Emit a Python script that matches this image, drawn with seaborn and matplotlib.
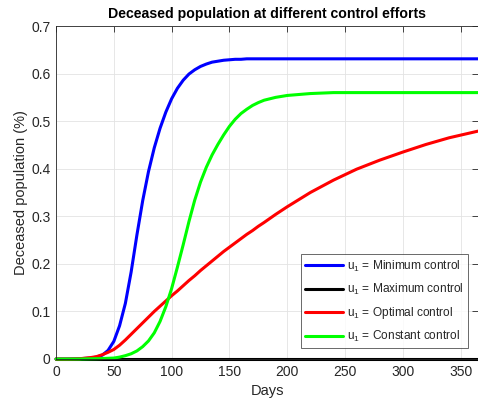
import numpy as np
import pandas as pd
import matplotlib
matplotlib.use("Agg")
import matplotlib.pyplot as plt
import seaborn as sns

# Simulation output sampled at selected days
days = [0, 10, 20, 30, 35, 40, 45, 50, 55, 60, 65, 70, 75, 80, 85, 90, 95, 100,
        105, 110, 115, 120, 125, 130, 135, 140, 145, 150, 155, 160, 165, 170,
        175, 180, 190, 200, 220, 240, 260, 280, 300, 320, 340, 365]

minimum_control = [0, 0, 0.0005, 0.002, 0.004, 0.008, 0.018, 0.037, 0.070, 0.117,
                   0.183, 0.261, 0.333, 0.394, 0.444, 0.485, 0.519, 0.547, 0.569,
                   0.586, 0.599, 0.608, 0.615, 0.620, 0.624, 0.626, 0.628, 0.629,
                   0.630, 0.630, 0.631, 0.631, 0.631, 0.631, 0.631, 0.631, 0.631,
                   0.631, 0.631, 0.631, 0.631, 0.631, 0.631, 0.631]

maximum_control = [0.0] * len(days)

optimal_control = [0, 0, 0.0005, 0.003, 0.005, 0.009, 0.014, 0.020, 0.029, 0.040,
                   0.052, 0.064, 0.076, 0.088, 0.100, 0.111, 0.122, 0.133, 0.143,
                   0.154, 0.165, 0.175, 0.186, 0.196, 0.206, 0.216, 0.226, 0.235,
                   0.244, 0.253, 0.262, 0.270, 0.279, 0.287, 0.304, 0.320, 0.350,
                   0.376, 0.399, 0.418, 0.435, 0.451, 0.465, 0.479]

constant_control = [0, 0, 0, 0.0005, 0.0007, 0.001, 0.0015, 0.002, 0.004, 0.007,
                    0.011, 0.017, 0.026, 0.038, 0.055, 0.079, 0.110, 0.148, 0.193,
                    0.240, 0.289, 0.334, 0.372, 0.403, 0.429, 0.451, 0.471, 0.489,
                    0.504, 0.516, 0.525, 0.533, 0.539, 0.544, 0.550, 0.554, 0.558,
                    0.560, 0.560, 0.560, 0.560, 0.560, 0.560, 0.560]

labels = [r"u$_1$ = Minimum control", r"u$_1$ = Maximum control",
          r"u$_1$ = Optimal control", r"u$_1$ = Constant control"]
colors = ["#0000ff", "#000000", "#ff0000", "#00ff00"]

x_ticks = [0, 50, 100, 150, 200, 250, 300, 350]
y_ticks = [0, 0.1, 0.2, 0.3, 0.4, 0.5, 0.6, 0.7]
y_tick_labels = ["0", "0.1", "0.2", "0.3", "0.4", "0.5", "0.6", "0.7"]

frames = []
for lab, vals in zip(labels, [minimum_control, maximum_control,
                              optimal_control, constant_control]):
    frames.append(pd.DataFrame({"Days": days, "Deceased": vals, "Control": lab}))
df = pd.concat(frames, ignore_index=True)

sns.set_style("white")
plt.rcParams["font.family"] = ["Liberation Sans", "DejaVu Sans"]
plt.rcParams["mathtext.fontset"] = "custom"
plt.rcParams["mathtext.rm"] = "Liberation Sans"
plt.rcParams["mathtext.it"] = "Liberation Sans"
plt.rcParams["mathtext.default"] = "regular"

fig = plt.figure(figsize=(4.78, 4.03), dpi=100)
ax = fig.add_axes([56 / 478, 1 - 359 / 403, 422 / 478, 333 / 403])

sns.lineplot(data=df, x="Days", y="Deceased", hue="Control", hue_order=labels,
             palette=colors, linewidth=2.2, ax=ax, clip_on=False, sort=False)
for line in ax.get_lines():
    line.set_solid_joinstyle("round")

ax.set_xlim(0, 365)
ax.set_ylim(0, 0.7)
ax.set_xticks(x_ticks)
ax.set_yticks(y_ticks)
ax.set_yticklabels(y_tick_labels)

dark = "#262626"
ax.grid(True, color="#e3e3e3", linewidth=0.6)
ax.set_axisbelow(True)
for s in ax.spines.values():
    s.set_color(dark)
    s.set_linewidth(0.6)
ax.tick_params(direction="in", length=4, width=0.6, colors=dark, labelsize=10,
               top=True, right=True, pad=4)
for t in ax.get_xticklabels() + ax.get_yticklabels():
    t.set_color(dark)

ax.set_xlabel("Days", fontsize=10.5, color=dark, labelpad=4)
ax.set_ylabel("Deceased population (%)", fontsize=10.5, color=dark, labelpad=2)
ax.set_title("Deceased population at different control efforts",
             fontsize=10.2, fontweight="bold", color="#000000", pad=6)

leg = ax.legend(loc="lower right", bbox_to_anchor=(0.976, 0.032),
                borderaxespad=0, fontsize=8.6, frameon=True, fancybox=False,
                handlelength=3.2, handletextpad=0.3, labelspacing=0.68,
                borderpad=0.35)
leg.get_frame().set_edgecolor(dark)
leg.get_frame().set_linewidth(0.6)
for line in leg.get_lines():
    line.set_linewidth(2.2)

fig.savefig("out.png", dpi=100)
